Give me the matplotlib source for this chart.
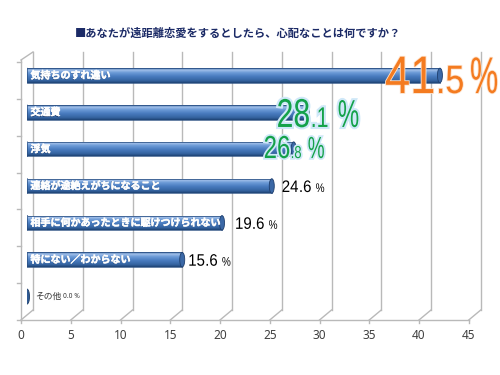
import numpy as np
import matplotlib.pyplot as plt
import matplotlib.patheffects as pe
from matplotlib.colors import LinearSegmentedColormap
from matplotlib.patches import Rectangle, Ellipse, PathPatch
from matplotlib.transforms import ScaledTranslation, Affine2D
from matplotlib.textpath import TextPath
from matplotlib.font_manager import FontProperties

title = '■あなたが遠距離恋愛をするとしたら、心配なことは何ですか？'
categories = ['気持ちのすれ違い', '交通費', '浮気', '連絡が途絶えがちになること',
              '相手に何かあったときに駆けつけられない', '特にない／わからない', 'その他']
values = [41.5, 28.1, 26.8, 24.6, 19.6, 15.6, 0.0]
xticks = [0, 5, 10, 15, 20, 25, 30, 35, 40, 45]

JP = ['Noto Sans CJK JP', 'DejaVu Sans']

# value label looks: shift px from bar end, baseline px below bar centre,
# sizes int/dec/pct, x-squeeze num/pct, gap before %, colour, glow, glow width
label_look = [
    (-55, 17.6, (38, 28.5, 37), (0.86, 0.62), 5, '#f47b20', '#fde2cc', 1.2),
    (-30, 14.7, (29, 20.5, 28), (0.75, 0.62), 9, '#14a24a', '#cfe8f8', 3.0),
    (-30, 8.9, (23, 12.5, 22), (0.75, 0.62), 6, '#14a24a', '#cfe8f8', 2.5),
    (10, 6, (12, 12, 9), (0.9, 0.8), 4, 'black', None, 0),
    (13, 6, (12, 12, 9), (0.9, 0.8), 4, 'black', None, 0),
    (6, 6, (12, 12, 9), (0.9, 0.8), 4, 'black', None, 0),
]

fig = plt.figure(figsize=(5, 3.75), dpi=100)
fig.patch.set_facecolor('white')
px_x = 9.95          # pixels per percent
px_y = 36.86         # pixels per category row
ax = fig.add_axes([27 / 500, 60 / 375, 45 * px_x / 500, 7 * px_y / 375])
ax.set_xlim(0, 45)
ax.set_ylim(6.5, -0.5)
for s in ax.spines.values():
    s.set_visible(False)
ax.set_yticks([])

# depth offsets of the 3d box (front / back relative to bar plane)
ddx = 6 / px_x
ddy = 5 / px_y
grid_c = '#b9b9b9'
kw = dict(color=grid_c, lw=1, clip_on=False, zorder=1)

for t in xticks:
    ax.plot([t + ddx, t + ddx], [6.5 - ddy, -0.5 - ddy], **kw)
    ax.plot([t - ddx, t + ddx], [6.5 + ddy, 6.5 - ddy], **kw)
    ax.plot([t - ddx, t - ddx], [6.5 + ddy, 6.5 + ddy + 3 / px_y], **kw)
ax.plot([-ddx, 45 - ddx], [6.5 + ddy, 6.5 + ddy], **kw)
# left wall
ax.plot([-ddx, -ddx], [-0.5 + ddy - 2 / px_y, 6.5 + ddy], **kw)
ax.plot([-ddx, ddx], [-0.5 + ddy - 2 / px_y, -0.5 - ddy], **kw)
for b in np.arange(-0.5, 7, 1):
    ax.plot([-ddx - 4 / px_x, -ddx], [b + ddy, b + ddy], **kw)

ax.set_xticks(xticks)
ax.set_xticklabels([str(t) for t in xticks], fontsize=8.5, color='#404040',
                   family=['Noto Sans', 'DejaVu Sans'])
ax.tick_params(axis='x', length=0, pad=10)
shift = ScaledTranslation(-6 / 100, 0, fig.dpi_scale_trans)
for lab in ax.get_xticklabels():
    lab.set_transform(lab.get_transform() + shift)

cmap = LinearSegmentedColormap.from_list('cyl', [
    (0.0, '#2c5a96'), (0.12, '#a3c1ea'), (0.3, '#6d9bd7'),
    (0.55, '#4a7cc0'), (0.85, '#34639f'), (1.0, '#1d4273')])
grad = np.linspace(0, 1, 64).reshape(-1, 1)
h = 14.5 / px_y
cap_w = 5 / px_x

for i, (cat, v) in enumerate(zip(categories, values)):
    if v > 0:
        ax.add_patch(Ellipse((0, i), cap_w, h, facecolor='#3c6aa8',
                             edgecolor='#22477a', lw=0.5, zorder=2))
        rect = Rectangle((0, i - h / 2), v, h, facecolor='none',
                         edgecolor='#2a4f82', lw=0.5, zorder=4)
        ax.add_patch(rect)
        im = ax.imshow(grad, extent=(0, v, i + h / 2, i - h / 2), aspect='auto',
                       cmap=cmap, zorder=3, interpolation='bilinear')
        im.set_clip_path(rect)
        ax.add_patch(Ellipse((v, i), cap_w, h, facecolor='#3b68a6',
                             edgecolor='#1f3f6e', lw=0.6, zorder=5))
        # dark offset copy gives the label its outline
        ax.annotate(cat, xy=(0.35, i), xytext=(0.4, -0.4), textcoords='offset points',
                    fontsize=7.2, fontweight='bold', color='#1f3d6b',
                    family=JP, va='center', ha='left', zorder=6)
        ax.text(0.35, i, cat, fontsize=7.2, fontweight='bold', color='white',
                family=JP, va='center', ha='left', zorder=6,
                path_effects=[pe.withStroke(linewidth=0.4, foreground='white')])
    else:
        ax.add_patch(Ellipse((0, i), cap_w, 15 / px_y, facecolor='#2f5a93',
                             edgecolor='#1c3c66', lw=0.6, zorder=5))
        ax.annotate(cat, xy=(0, i), xytext=(8 * 0.72, 0), textcoords='offset points',
                    fontsize=6.3, color='#333333', family=JP, va='center')
        ax.annotate(f'{v:.1f} %', xy=(0, i), xytext=(36 * 0.72, 0),
                    textcoords='offset points', fontsize=4.8, color='#333333',
                    family=['Noto Sans', 'DejaVu Sans'], va='center')
ax.set_xlim(0, 45)
ax.set_ylim(6.5, -0.5)

# value labels drawn as text paths so the digits can be squeezed like the original
fp = FontProperties(family='Liberation Sans')
for i, look in enumerate(label_look):
    dx, base, sizes, squeeze, gap, col, glow, gw = look
    v = values[i]
    whole, dec = f'{v:.1f}'.split('.')
    pieces = [(whole, sizes[0], squeeze[0], 0), ('.' + dec, sizes[1], squeeze[0], 0),
              ('%', sizes[2], squeeze[1], gap)]
    x0, y0 = ax.transData.transform((v, i))
    off = dx
    for txt, size, sx, g in pieces:
        off += g
        em = size * 100 / 72
        path = TextPath((0, 0), txt, size=em, prop=fp)
        tr = Affine2D().scale(sx, 1).translate(x0 + off, y0 - base)
        patch = PathPatch(path, transform=tr, facecolor=col, edgecolor='none',
                          zorder=7)
        if glow:
            patch.set_path_effects([pe.withStroke(linewidth=gw, foreground=glow)])
        fig.add_artist(patch)
        off += (path.get_extents().x1 + 0.06 * em) * sx

fig.text(75 / 500, 1 - 33 / 375, title, fontsize=8.1, fontweight='bold',
         color='#1b2a66', family=JP, va='center', ha='left')

fig.savefig('out.png', dpi=100)
